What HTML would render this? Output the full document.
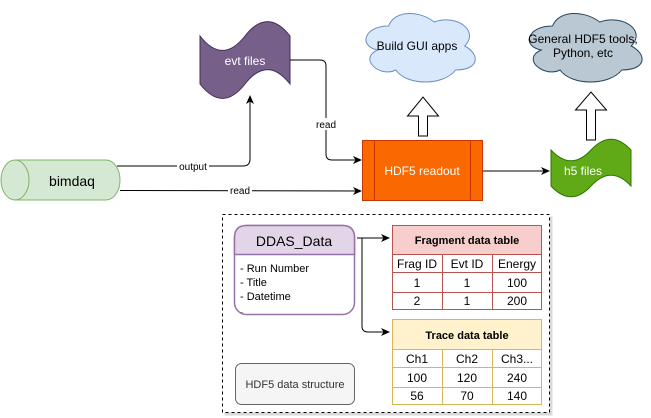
<!DOCTYPE html>
<html><head><meta charset="utf-8"><style>
html,body{margin:0;padding:0;background:#fff;}
svg{display:block;font-family:"Liberation Sans",Arial,sans-serif;}
</style></head><body>
<svg width="651" height="418" viewBox="0 0 651 418" xmlns="http://www.w3.org/2000/svg">
<defs>
<marker id="ah" markerWidth="10" markerHeight="10" refX="8" refY="5" orient="auto" markerUnits="userSpaceOnUse">
<path d="M0,1 L9,5 L0,9 L2.5,5 Z" fill="#000"/>
</marker>
<clipPath id="dc"><rect x="236" y="255" width="117" height="58"/></clipPath>
</defs>
<!-- clouds -->
<g transform="translate(358,6) scale(1.22,0.8)">
<path d="M25,25 C5,25 0,50 16,55 C0,66 18,90 31,80 C40,100 70,100 80,80 C100,80 100,60 87.5,50 C100,30 80,10 62.5,20 C50,5 30,5 25,25 Z" fill="#dae8fc" stroke="#6c8ebf" stroke-width="1" vector-effect="non-scaling-stroke"/>
</g>
<text x="417" y="50" font-size="12" text-anchor="middle" fill="#000">Build GUI apps</text>
<g transform="translate(521,6) scale(1.26,0.8)">
<path d="M25,25 C5,25 0,50 16,55 C0,66 18,90 31,80 C40,100 70,100 80,80 C100,80 100,60 87.5,50 C100,30 80,10 62.5,20 C50,5 30,5 25,25 Z" fill="#bac8d3" stroke="#23445d" stroke-width="1" vector-effect="non-scaling-stroke"/>
</g>
<text x="583" y="43" font-size="12" text-anchor="middle" fill="#000">General HDF5 tools,</text>
<text x="583" y="57" font-size="12" text-anchor="middle" fill="#000">Python, etc</text>

<!-- block arrows -->
<path d="M418.5,136 L418.5,116 L407.5,116 L423,97 L438.5,116 L427.5,116 L427.5,136 Z" fill="#fff" stroke="#000"/>
<path d="M586.5,140 L586.5,110 L575.5,110 L591,92 L606.5,110 L595.5,110 L595.5,140 Z" fill="#fff" stroke="#000"/>

<!-- evt files -->
<g transform="translate(200,20) scale(0.9,0.8)">
<path d="M0,20 Q25,56 50,20 Q75,-16 100,20 L100,80 Q75,44 50,80 Q25,116 0,80 Z" fill="#76608a" stroke="#432d57" vector-effect="non-scaling-stroke"/>
</g>
<text x="245" y="65" font-size="12" text-anchor="middle" fill="#fff">evt files</text>

<!-- h5 files -->
<g transform="translate(551,138) scale(0.8,0.6)">
<path d="M0,20 Q25,56 50,20 Q75,-16 100,20 L100,80 Q75,44 50,80 Q25,116 0,80 Z" fill="#60a917" stroke="#2d7600" vector-effect="non-scaling-stroke"/>
</g>
<text x="583" y="175" font-size="12" text-anchor="middle" fill="#fff">h5 files</text>

<!-- bimdaq cylinder -->
<path d="M15,160 L106,160 A14,20 0 0 1 106,200 L15,200 A14,20 0 0 1 15,160 Z" fill="#d5e8d4" stroke="#82b366"/>
<path d="M15,160 A14,20 0 0 1 15,200" fill="none" stroke="#82b366"/>
<text x="72" y="186" font-size="14" text-anchor="middle" fill="#000">bimdaq</text>

<!-- connectors -->
<path d="M117,166 L243,166 Q250,166 250,159 L250,96" fill="none" stroke="#000" marker-end="url(#ah)"/>
<rect x="177" y="160" width="32" height="12" fill="#fff"/>
<text x="193" y="170" font-size="10" text-anchor="middle">output</text>
<path d="M120,190.5 L361,191" fill="none" stroke="#000" marker-end="url(#ah)"/>
<rect x="228" y="185" width="24" height="12" fill="#fff"/>
<text x="240" y="194" font-size="10" text-anchor="middle">read</text>
<path d="M290,60 L320,60 Q326,60 326,66 L326,154 Q326,160 332,160 L361,160" fill="none" stroke="#000" marker-end="url(#ah)"/>
<rect x="314" y="118" width="24" height="12" fill="#fff"/>
<text x="326" y="128" font-size="10" text-anchor="middle">read</text>
<path d="M483,171 L549,171" fill="none" stroke="#000" marker-end="url(#ah)"/>

<!-- HDF5 readout -->
<rect x="362.5" y="140.5" width="120" height="60" fill="#fa6800" stroke="#c73500"/>
<line x1="374.5" y1="140.5" x2="374.5" y2="200.5" stroke="#c73500"/>
<line x1="470.5" y1="140.5" x2="470.5" y2="200.5" stroke="#c73500"/>
<text x="422" y="175" font-size="12" text-anchor="middle" fill="#fff">HDF5 readout</text>

<!-- dashed container -->
<rect x="224.5" y="216.5" width="328" height="199" fill="#b3b3b3" opacity="0.5"/>
<rect x="222.5" y="214.5" width="327" height="198" fill="#fff" stroke="#000" stroke-dasharray="3,3"/>

<!-- DDAS_Data -->
<rect x="234.5" y="225.5" width="120" height="89" rx="12" fill="#fff" stroke="#9673a6" stroke-width="1.5"/>
<path d="M234.5,254.5 L234.5,237.5 Q234.5,225.5 246.5,225.5 L342.5,225.5 Q354.5,225.5 354.5,237.5 L354.5,254.5 Z" fill="#e1d5e7" stroke="#9673a6" stroke-width="1.5"/>
<text x="294" y="246" font-size="14" text-anchor="middle">DDAS_Data</text>
<g font-size="11">
<text x="240" y="272">- Run Number</text>
<text x="240" y="286">- Title</text>
<text x="240" y="300">- Datetime</text>
</g>
<text x="240" y="316" font-size="11" clip-path="url(#dc)">- ...</text>

<path d="M357,238 L389,238" fill="none" stroke="#000" marker-end="url(#ah)"/>
<path d="M362,238 L362,326 Q362,332 368,332 L389,332" fill="none" stroke="#000" marker-end="url(#ah)"/>

<!-- Fragment table -->
<rect x="392.5" y="225.5" width="149" height="29" fill="#f8cecc" stroke="#b85450"/>
<text x="467" y="244" font-size="11" font-weight="bold" text-anchor="middle">Fragment data table</text>
<rect x="392.5" y="254.5" width="149" height="55" fill="#fff" stroke="#b85450"/>
<g stroke="#b85450">
<line x1="392.5" y1="272.5" x2="541.5" y2="272.5"/>
<line x1="392.5" y1="292.5" x2="541.5" y2="292.5"/>
<line x1="442.5" y1="254.5" x2="442.5" y2="309.5"/>
<line x1="492.5" y1="254.5" x2="492.5" y2="309.5"/>
</g>
<g font-size="12" text-anchor="middle">
<text x="417" y="268">Frag ID</text><text x="467" y="268">Evt ID</text><text x="517" y="268">Energy</text>
<text x="417" y="287">1</text><text x="467" y="287">1</text><text x="517" y="287">100</text>
<text x="417" y="305">2</text><text x="467" y="305">1</text><text x="517" y="305">200</text>
</g>

<!-- Trace table -->
<rect x="392.5" y="319.5" width="149" height="30" fill="#fff2cc" stroke="#d6b656"/>
<text x="467" y="339" font-size="11" font-weight="bold" text-anchor="middle">Trace data table</text>
<rect x="392.5" y="349.5" width="149" height="55" fill="#fff" stroke="#d6b656"/>
<g stroke="#d6b656">
<line x1="392.5" y1="367.5" x2="541.5" y2="367.5"/>
<line x1="392.5" y1="387.5" x2="541.5" y2="387.5"/>
<line x1="442.5" y1="349.5" x2="442.5" y2="404.5"/>
<line x1="492.5" y1="349.5" x2="492.5" y2="404.5"/>
</g>
<g font-size="12" text-anchor="middle">
<text x="417" y="363">Ch1</text><text x="467" y="363">Ch2</text><text x="517" y="363">Ch3...</text>
<text x="417" y="382">100</text><text x="467" y="382">120</text><text x="517" y="382">240</text>
<text x="417" y="400">56</text><text x="467" y="400">70</text><text x="517" y="400">140</text>
</g>

<!-- HDF5 data structure -->
<rect x="235.5" y="363.5" width="119" height="41" rx="6" fill="#f5f5f5" stroke="#666"/>
<text x="295" y="388" font-size="11" text-anchor="middle" fill="#333">HDF5 data structure</text>
</svg>
</body></html>
